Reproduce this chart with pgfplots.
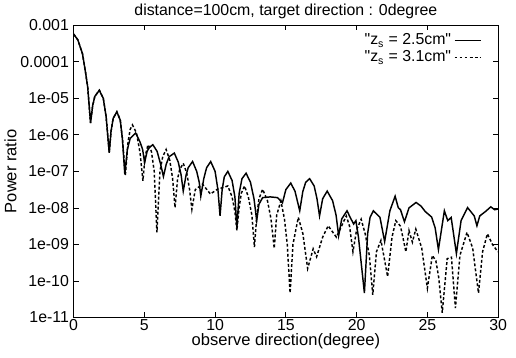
\documentclass[border=0pt]{standalone}
\usepackage{fontspec}
\setmainfont{Liberation Sans}
\usepackage{pgfplots}
\pgfplotsset{compat=1.18}
\begin{document}
\begin{tikzpicture}
\begin{axis}[
  scale only axis,
  width=321pt, height=221pt,
  xmin=0, xmax=30,
  ymode=log, ymin=1e-11, ymax=1e-3,
  xtick={0,5,10,15,20,25,30},
  ytick={1e-11,1e-10,1e-9,1e-8,1e-7,1e-6,1e-5,1e-4,1e-3},
  yticklabels={1e-11,1e-10,1e-09,1e-08,1e-07,1e-06,1e-05,0.0001,0.001},
  yminorticks=false,
  tick align=inside,
  major tick length=4pt,
  /pgf/number format/assume math mode=true,
  tick label style={font=\fontsize{12}{13}\selectfont},
  every tick/.style={black, line width=0.6pt},
  axis line style={line width=0.8pt},
  title={distance=100cm, target direction : 0degree},
  title style={font=\fontsize{12}{14}\selectfont, yshift=-5pt},
  xlabel={observe direction(degree)},
  ylabel={Power ratio},
  label style={font=\fontsize{12.5}{14}\selectfont},
  xlabel style={yshift=5pt},
  ylabel style={yshift=-4pt},
  xticklabel style={yshift=2pt},
  legend style={draw=none, fill=none, at={(0.965,0.985)}, anchor=north east,
    font=\fontsize{12}{13}\selectfont, row sep=-1pt, inner sep=1pt},
  legend plot pos=right,
  legend cell align=right,
  legend image code/.code={\draw[#1] (-3pt,0pt) -- (17pt,0pt);},
]
\addplot[black, line width=1.1pt] coordinates {
(0,5.75e-4) (0.3,3.98e-4) (0.63,1.66e-4) (0.85,5.01e-5) (1.0,2.0e-5) (1.2,2.09e-6)
(1.35,6.31e-6) (1.5,1.12e-5) (1.82,1.66e-5) (2.1,1.0e-5) (2.3,3.16e-6) (2.52,3.24e-7)
(2.65,1.26e-6) (2.8,2.82e-6) (3.06,4.27e-6) (3.3,2.51e-6) (3.45,7.94e-7) (3.62,8.32e-8)
(3.8,3.98e-7) (4.0,7.94e-7) (4.39,1.12e-6) (4.7,6.31e-7) (4.88,3.98e-7) (5.02,1.74e-7)
(5.2,3.55e-7) (5.35,4.47e-7) (5.6,5.37e-7) (5.9,3.55e-7) (6.15,1.58e-7) (6.35,7.24e-8)
(6.55,1.58e-7) (6.75,2.51e-7) (7.12,3.16e-7) (7.4,1.78e-7) (7.6,7.94e-8) (7.75,2.88e-8)
(7.95,7.94e-8) (8.1,1.26e-7) (8.41,1.86e-7) (8.7,1.0e-7) (8.88,5.01e-8) (8.99,2.09e-8)
(9.2,6.31e-8) (9.4,1.26e-7) (9.69,1.86e-7) (10.0,1.0e-7) (10.2,3.16e-8) (10.35,6.03e-9)
(10.5,3.16e-8) (10.65,7.08e-8) (10.9,1.0e-7) (11.2,5.62e-8) (11.4,2.0e-8) (11.54,2.95e-9)
(11.7,2.51e-8) (11.9,6.31e-8) (12.19,8.91e-8) (12.5,5.01e-8) (12.75,1.78e-8) (12.94,4.47e-9)
(13.1,1.26e-8) (13.36,1.91e-8) (13.9,2.0e-8) (14.41,1.91e-8) (14.76,1.38e-8) (15.0,3.16e-8)
(15.35,4.79e-8) (15.65,2.82e-8) (15.98,8.32e-9) (16.2,2.82e-8) (16.4,5.01e-8) (16.68,6.31e-8)
(17.0,3.98e-8) (17.2,1.78e-8) (17.38,6.03e-9) (17.6,1.78e-8) (17.92,2.88e-8) (18.3,1.58e-8)
(18.55,6.31e-9) (18.73,1.74e-9) (18.95,5.01e-9) (19.32,8.32e-9) (19.6,5.01e-9) (19.79,3.63e-9)
(19.95,4.47e-9) (20.13,1.58e-9) (20.55,4.68e-11) (20.78,2.0e-9) (20.95,5.50e-9) (21.18,8.32e-9)
(21.65,5.50e-9) (21.98,1.20e-9) (22.35,8.32e-9) (22.72,2.09e-8) (22.94,1.02e-8) (23.1,8.91e-9)
(23.38,4.17e-9) (23.7,1.0e-8) (24.2,1.41e-8) (24.55,1.12e-8) (24.85,7.94e-9) (25.3,5.62e-9)
(25.55,2.82e-9) (25.78,7.24e-10) (26.2,8.32e-9) (26.44,4.47e-9) (26.68,5.50e-9) (27.05,5.62e-10)
(27.38,4.47e-9) (27.84,1.02e-8) (28.31,6.03e-9) (28.5,3.24e-9) (28.7,6.03e-9) (29.1,7.94e-9)
(29.48,1.07e-8) (29.75,8.91e-9) (30,9.33e-9)
};
\addlegendentry{\textquotedbl z\textsubscript{s} = 2.5cm\textquotedbl}
\addplot[black, line width=1.1pt, dash pattern=on 2.2pt off 1.6pt] coordinates {
(0,5.75e-4) (0.3,3.98e-4) (0.63,1.66e-4) (0.85,5.01e-5) (1.0,2.0e-5) (1.2,2.09e-6)
(1.35,6.31e-6) (1.5,1.12e-5) (1.82,1.66e-5) (2.1,1.0e-5) (2.3,3.16e-6) (2.52,3.24e-7)
(2.65,1.26e-6) (2.8,2.82e-6) (3.06,4.27e-6) (3.3,2.51e-6) (3.45,7.94e-7) (3.66,7.94e-8)
(3.85,6.31e-7) (4.0,1.41e-6) (4.16,1.86e-6) (4.45,1.12e-6) (4.7,3.16e-7) (4.9,5.50e-8)
(5.05,2.51e-7) (5.26,5.37e-7) (5.5,3.55e-7) (5.7,1.0e-7) (5.89,2.14e-9) (6.1,1.0e-7)
(6.3,2.51e-7) (6.54,3.98e-7) (6.8,2.0e-7) (7.0,6.31e-8) (7.17,1.02e-8) (7.35,6.31e-8)
(7.5,1.12e-7) (7.75,1.66e-7) (8.0,8.91e-8) (8.2,3.16e-8) (8.36,9.12e-9) (8.6,3.16e-8)
(9.11,4.47e-8) (9.67,2.40e-8) (10.16,3.24e-8) (10.5,3.55e-8) (10.9,3.98e-8) (11.2,2.0e-8)
(11.4,7.94e-9) (11.54,2.40e-9) (11.7,1.0e-8) (11.85,2.51e-8) (12.08,3.98e-8) (12.35,2.0e-8)
(12.6,6.31e-9) (12.78,8.51e-10) (12.95,6.31e-9) (13.1,1.78e-8) (13.36,3.24e-8) (13.7,1.58e-8)
(13.95,5.01e-9) (14.18,7.76e-10) (14.35,6.31e-9) (14.65,1.55e-8) (14.9,5.01e-9) (15.1,1.0e-9)
(15.3,4.68e-11) (15.5,1.0e-9) (15.88,5.50e-9) (16.2,2.0e-9) (16.54,2.19e-10) (16.93,7.59e-10)
(17.17,4.57e-10) (17.6,1.58e-9) (17.99,3.24e-9) (18.57,1.58e-9) (19.27,6.03e-9) (19.5,3.16e-9)
(19.74,6.31e-10) (20.0,2.51e-9) (20.32,4.90e-9) (20.6,2.0e-9) (20.9,5.01e-10) (21.14,4.17e-11)
(21.4,6.31e-10) (21.72,1.29e-9) (22.19,1.32e-10) (22.5,1.58e-9) (22.77,4.47e-9) (23.1,3.16e-9)
(23.48,6.31e-10) (23.7,2.40e-9) (23.94,1.15e-9) (24.18,2.63e-9) (24.6,7.94e-10) (25.0,6.31e-11)
(25.35,5.01e-10) (25.6,3.55e-10) (25.8,1.26e-10) (26.05,1.35e-11) (26.4,4.07e-10) (26.7,4.47e-10)
(26.98,1.82e-11) (27.3,5.01e-10) (27.8,2.14e-9) (28.2,7.94e-10) (28.61,4.68e-11) (28.9,6.31e-10)
(29.24,1.95e-9) (29.6,1.0e-9) (29.9,6.92e-10) (30,6.31e-10)
};
\addlegendentry{\textquotedbl z\textsubscript{s} = 3.1cm\textquotedbl}
\end{axis}
\path ([xshift=-52.5pt,yshift=-30pt]current axis.south west) rectangle ([xshift=13.5pt,yshift=16.5pt]current axis.north east);
\end{tikzpicture}
\end{document}
